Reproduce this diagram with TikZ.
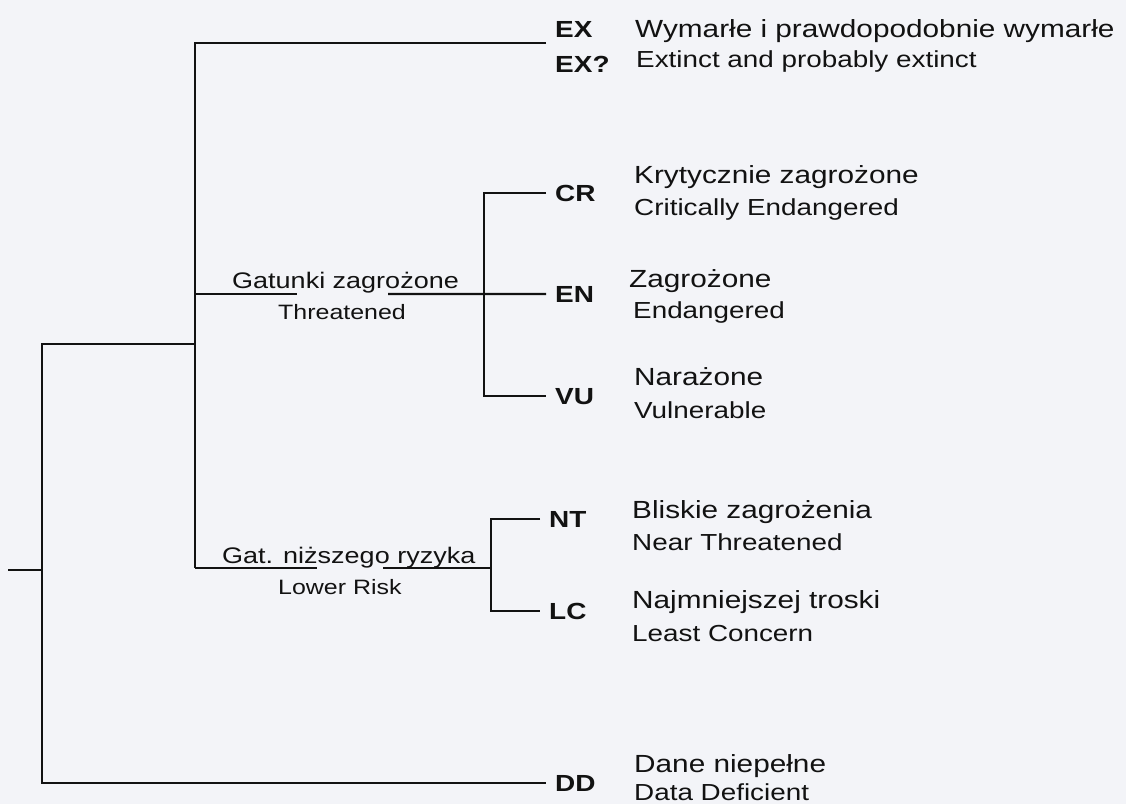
\documentclass[tikz,border=0pt]{standalone}
\usepackage{fontspec}
\setmainfont{Liberation Sans}[FakeStretch=1.2]
\usepackage{tikz}
\usetikzlibrary{positioning}
\definecolor{paper}{RGB}{243,244,248}
\definecolor{ink}{RGB}{18,18,18}

\begin{document}
\begin{tikzpicture}[
  x=1pt, y=-1pt,
  every node/.style={text=ink},
  branch/.style={draw=ink, line width=2.3pt},
  code/.style={font=\fontsize{23.3}{26}\selectfont\bfseries, anchor=base west, inner xsep=9pt, inner ysep=0pt},
  pl/.style={font=\fontsize{24.8}{28}\selectfont, anchor=base west, inner sep=0pt},
  en/.style={font=\fontsize{23.2}{26}\selectfont, anchor=base west, inner sep=0pt},
  grp/.style={font=\fontsize{22.5}{25}\selectfont, anchor=base west, inner sep=0pt},
  grpen/.style={font=\fontsize{20.8}{23}\selectfont, anchor=base west, inner sep=0pt}
]
  \useasboundingbox (0,0) rectangle (1126,804);
  \fill[paper] (0,0) rectangle (1126,804);

  % category codes
  \foreach \n/\lab/\x/\y in {ex/EX/546/37, exq/EX?/546/72, cr/CR/546/201, en/EN/546/302,
                             vu/VU/546/404, nt/NT/540/527, lc/LC/540/619, dd/DD/546/791}
    \node[code] (\n) at (\x,\y) {\lab};

  % polish and english names
  \foreach \n/\x/\y/\txt in {ex/635/37/Wymarłe i prawdopodobnie wymarłe, cr/634/183/Krytycznie zagrożone,
                             en/629/287/Zagrożone, vu/634/385/Narażone, nt/632/518/Bliskie zagrożenia,
                             lc/632/608/Najmniejszej troski, dd/634/772/Dane niepełne}
    \node[pl] (\n-pl) at (\x,\y) {\txt};
  \foreach \n/\x/\y/\txt in {ex/636/67/Extinct and probably extinct, cr/634/215/Critically Endangered,
                             en/633/318/Endangered, vu/634/418/Vulnerable, nt/632/550/Near Threatened,
                             lc/632/641/Least Concern, dd/634/800/Data Deficient}
    \node[en] (\n-en) at (\x,\y) {\txt};

  \node[grp] (thr-pl) at (232,288) {Gatunki zagrożone};
  \node[grpen] (thr-en) at (278,319) {Threatened};
  \node[grp] (low-pl) at (222,563) {Gat. niższego ryzyka};
  \node[grpen] (low-en) at (278,594) {Lower Risk};

  % tree
  \coordinate (stub) at (8,570);
  \coordinate (root) at (42,570);
  \coordinate (top) at (42,344);
  \coordinate (spine) at (195,344);
  \coordinate (exEnd) at (546,42.7);
  \coordinate (thr) at (195,294);
  \coordinate (thrA) at (297,294);
  \coordinate (thrB) at (388,294);
  \coordinate (thrJ) at (484,294);
  \coordinate (low) at (195,568);
  \coordinate (lowA) at (317,568);
  \coordinate (lowB) at (383,568);
  \coordinate (lowJ) at (491,568);

  \draw[branch] (stub) -- (root);
  \draw[branch] (spine) -- (top) |- (dd.west);
  \draw[branch] (exEnd) -| (low);
  \draw[branch] (thr) -- (thrA);
  \draw[branch] (thrB) -- (en.west);
  \draw[branch] (cr.west) -| (thrJ) |- (vu.west);
  \draw[branch] (low) -- (lowA);
  \draw[branch] (lowB) -- (lowJ);
  \draw[branch] (nt.west) -| (lowJ) |- (lc.west);
\end{tikzpicture}
\end{document}
